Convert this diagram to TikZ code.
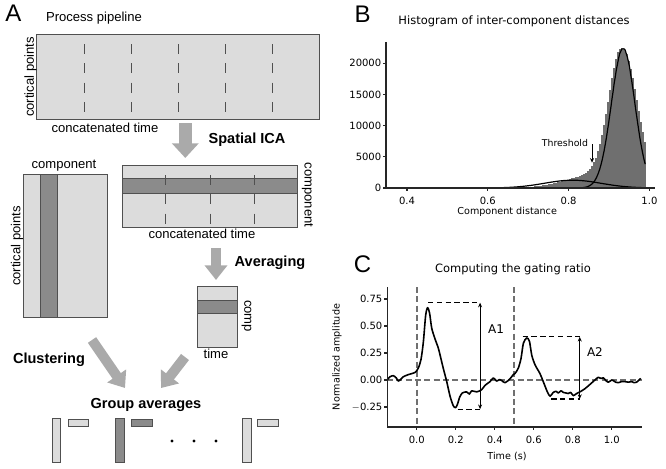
\documentclass[tikz,border=0pt]{standalone}
\usepackage{fontspec}
\setmainfont{Liberation Sans}
\newfontfamily\plotfont{DejaVu Sans}
\usetikzlibrary{arrows.meta}

\definecolor{cellgray}{HTML}{DCDCDC}
\definecolor{bandgray}{HTML}{8B8B8B}
\definecolor{framegray}{HTML}{505050}
\definecolor{arrowgray}{HTML}{AAAAAA}
\definecolor{bargray}{HTML}{6F6F6F}
\definecolor{guidegray}{HTML}{707070}

\begin{document}
\begin{tikzpicture}[x=0.75pt, y=-0.75pt,
    every node/.style={inner sep=0pt},
    panel/.style={font=\fontsize{18}{20}\selectfont},
    txt/.style={font=\fontsize{9.8}{11}\selectfont},
    stage/.style={font=\bfseries\fontsize{10.9}{12}\selectfont},
    cell/.style={fill=cellgray, draw=framegray, line width=0.6pt},
    band/.style={fill=bandgray, draw=framegray, line width=0.4pt},
    cut/.style={framegray, line width=0.75pt, dash pattern=on 7.5pt off 7pt, dash phase=7pt},
    bigarrow/.style={arrowgray, line width=7.5pt, -{Triangle[width=16.5pt, length=11pt]}},
    ptitle/.style={font=\plotfont\fontsize{8.6}{10}\selectfont},
    ticklbl/.style={font=\plotfont\fontsize{7.5}{9}\selectfont},
    axlbl/.style={font=\plotfont\fontsize{7.2}{8.5}\selectfont},
    spine/.style={line width=0.8pt, black!85},
    guide/.style={guidegray, line width=1.2pt, dash pattern=on 4.5pt off 2.5pt},
    span/.style={black, line width=0.8pt, dash pattern=on 4pt off 2.6pt},
  ]
  \useasboundingbox (0,0) rectangle (666,468);

  % Panel A: processing pipeline.
  \node[panel] (lettera) at (13.5,13.5) {A};
  \node[txt] (pipetitle) at (94,18) {Process pipeline};

  % Datos concatenados: puntos corticales x tiempo.
  \draw[cell] (36,34) rectangle (319,119);
  \foreach \xc in {84,131,178,225,272}
    \draw[cut] (\xc,34) -- (\xc,119);
  \node[txt, rotate=90] (rawpts) at (30.5,77) {cortical points};
  \node[txt] (rawtime) at (105,128) {concatenated time};

  \coordinate (icafrom) at (185.3,123);
  \coordinate (icato) at (185.3,158);
  \draw[bigarrow, line width=10pt, -{Triangle[width=19.5pt, length=11pt]}] (icafrom) -- (icato);
  \node[stage] (icalbl) at (247,140) {Spatial ICA};

  % Mapas espaciales y series temporales.
  \draw[cell] (23,174) rectangle (107,317);
  \draw[band] (40,174) rectangle (57,317);
  \node[txt] (mapcomp) at (64,166) {component};
  \node[txt, rotate=90] (mappts) at (17,246) {cortical points};

  \draw[cell] (122,165) rectangle (297,227);
  \draw[band] (122,178) rectangle (297,193);
  \foreach \xc in {165,210,254}
    \draw[cut] (\xc,165) -- (\xc,227);
  \node[txt, rotate=-90] (mixcomp) at (307.5,195) {component};
  \node[txt] (mixtime) at (202,234) {concatenated time};

  \coordinate (avgfrom) at (216,248);
  \coordinate (avgto) at (216,280);
  \draw[bigarrow] (avgfrom) -- (avgto);
  \node[stage] (avglbl) at (270,263) {Averaging};

  \draw[cell] (197,286) rectangle (237,347);
  \draw[band] (197,300) rectangle (237,313);
  \node[txt, rotate=-90] (tccomp) at (246.5,316) {comp};
  \node[txt] (tctime) at (216,354) {time};

  % Agrupamiento y promedios de grupo.
  \node[stage] (clulbl) at (49,360) {Clustering};
  \coordinate (clufrom) at (92,340);
  \coordinate (cluto) at (125,388);
  \draw[bigarrow] (clufrom) -- (cluto);
  \coordinate (tcfrom) at (185,357);
  \coordinate (tcto) at (161,388);
  \draw[bigarrow] (tcfrom) -- (tcto);
  \node[stage] (grplbl) at (146,405) {Group averages};

  \draw[cell] (52,418) rectangle (60,462);
  \draw[cell] (68,419) rectangle (88,426);
  \draw[band, line width=0.6pt] (115,418) rectangle (124,462);
  \draw[band, line width=0.6pt] (131,419) rectangle (152,426);
  \foreach \xc in {172,194,216}
    \fill (\xc,441) circle (1.7);
  \draw[cell] (242,418) rectangle (251,462);
  \draw[cell] (257,419) rectangle (278,426);

  % Panel B: histograma de distancias.
  \node[panel] (letterb) at (362.5,14) {B};
  \node[ptitle] (histtitle) at (514,21) {Histogram of inter-component distances};
  \begin{scope}[shift={(245.4,188)}, x=303pt, y=4.68pt]
    \foreach \b in {0,...,87}{
      \pgfmathsetmacro{\binlo}{0.55+0.005*\b}
      \pgfmathsetmacro{\binmd}{\binlo+0.0025}
      \pgfmathsetmacro{\sda}{\binmd<0.932 ? 0.032 : 0.038}
      \pgfmathsetmacro{\sdb}{\binmd<0.86 ? 0.07 : 0.05}
      \pgfmathsetmacro{\binh}{21.7*exp(max(-(\binmd-0.932)*(\binmd-0.932)/(2*\sda*\sda),-9))
        + 2.0*exp(max(-(\binmd-0.86)*(\binmd-0.86)/(2*\sdb*\sdb),-9))}
      \fill[bargray] (\binlo,0) rectangle ++(0.0056,\binh);
    }
    \draw[line width=0.9pt] plot[domain=0.36:0.99, samples=80]
      (\x, {1.25*exp(max(-(\x-0.81)*(\x-0.81)/0.0098,-9))});
    \draw[line width=0.9pt] plot[domain=0.8:0.99, samples=70]
      (\x, {22.3*exp(max(-(\x-0.935)*(\x-0.935)/0.001682,-9))});

    \draw[spine] (0.348,23.4) -- (0.348,0) -- (1.014,0);
    \foreach \v [count=\i] in {0.4,0.6,0.8,1.0}{
      \draw[spine] (\v,0) -- ++(0pt,-2.6pt);
      \node[ticklbl, anchor=north] (bx\i) at ([yshift=-6.3pt]\v,0) {\v};
    }
    \foreach \c/\l [count=\i] in {0/0,5/5000,10/10000,15/15000,20/20000}{
      \draw[spine] (0.348,\c) -- ++(-2.6pt,0pt);
      \node[ticklbl, anchor=east] (by\i) at ([xshift=-3.4pt]0.348,\c) {\l};
    }
    \node[axlbl] (xlabb) at (0.648,-3.85) {Component distance};

    \node[axlbl, font=\plotfont\fontsize{7}{8}\selectfont] (thrlbl) at (0.791,7.2) {Threshold};
    \coordinate (thrtop) at (0.858,7.0);
    \coordinate (thrbot) at (0.858,4.05);
    \draw[line width=0.6pt, -{Stealth[length=3.5pt, width=3pt]}] (thrtop) -- (thrbot);
  \end{scope}

  % Panel C: razon de gating.
  \node[panel] (letterc) at (362.5,264) {C};
  \node[ptitle] (gatetitle) at (513,269) {Computing the gating ratio};
  \node[axlbl, rotate=90] (ylabc) at (337,357) {Normalized amplitude};
  \begin{scope}[shift={(416.7,380)}, x=146.25pt, y=81pt]
    \draw[guide] (0,0.861) -- (0,-0.435);
    \draw[guide] (0.5,0.861) -- (0.5,-0.435);
    \draw[guide] (-0.152,0) -- (1.155,0);

    \draw[line width=1.2pt, line join=round] plot[smooth, tension=0.45] coordinates {
      (-0.152,0.0) (-0.137,0.03) (-0.12,0.04) (-0.105,0.02) (-0.094,-0.01) (-0.08,0.01)
      (-0.069,0.03) (-0.043,0.05) (-0.009,0.07) (0.008,0.11) (0.022,0.19) (0.034,0.35)
      (0.046,0.6) (0.056,0.67) (0.066,0.62) (0.077,0.48) (0.094,0.38) (0.11,0.3)
      (0.12,0.23) (0.136,0.11) (0.154,-0.015) (0.171,-0.15) (0.188,-0.24) (0.2,-0.255)
      (0.21,-0.22) (0.22,-0.16) (0.234,-0.12) (0.256,-0.11) (0.27,-0.13) (0.282,-0.10)
      (0.308,-0.11) (0.333,-0.09) (0.35,-0.05) (0.376,-0.015) (0.393,0.02) (0.41,-0.01)
      (0.425,0.005) (0.436,-0.005) (0.453,-0.025) (0.478,0.01) (0.495,0.05) (0.504,0.06)
      (0.521,0.11) (0.535,0.2) (0.547,0.34) (0.564,0.39) (0.578,0.36) (0.59,0.23)
      (0.607,0.14) (0.632,0.06) (0.649,-0.015) (0.67,-0.11) (0.684,-0.15) (0.7,-0.115)
      (0.715,-0.105) (0.726,-0.12) (0.74,-0.1) (0.752,-0.115) (0.765,-0.12) (0.777,-0.125)
      (0.79,-0.115) (0.803,-0.145) (0.82,-0.125) (0.837,-0.11) (0.863,-0.08) (0.889,-0.04)
      (0.914,0.0) (0.931,0.025) (0.945,0.015) (0.957,0.02) (0.97,-0.005) (0.983,-0.02)
      (1.0,0.0) (1.008,-0.005) (1.02,-0.02) (1.034,-0.025) (1.05,-0.015) (1.068,-0.015)
      (1.085,-0.02) (1.103,-0.015) (1.115,-0.025) (1.128,-0.02) (1.14,0.0) (1.149,0.015)};

    % Amplitudes A1 y A2.
    \coordinate (aonetop) at (0.325,0.716);
    \coordinate (aonebot) at (0.325,-0.27);
    \draw[span] (0.058,0.716) -- (aonetop);
    \draw[span] (0.21,-0.27) -- (aonebot);
    \draw[line width=0.6pt, {Stealth[length=3.5pt, width=3pt]}-{Stealth[length=3.5pt, width=3pt]}] (aonebot) -- (aonetop);
    \node[font=\plotfont\fontsize{9}{10}\selectfont] (aone) at (0.407,0.472) {A1};

    \coordinate (atwotop) at (0.836,0.40);
    \coordinate (atwobot) at (0.836,-0.176);
    \draw[span] (0.543,0.40) -- (atwotop);
    \draw[span] (0.69,-0.176) -- (atwobot);
    \draw[line width=0.6pt, {Stealth[length=3.5pt, width=3pt]}-{Stealth[length=3.5pt, width=3pt]}] (atwobot) -- (atwotop);
    \node[font=\plotfont\fontsize{9}{10}\selectfont] (atwo) at (0.914,0.259) {A2};

    \draw[spine] (-0.152,0.861) -- (-0.152,-0.435) -- (1.155,-0.435);
    \foreach \t [count=\i] in {0.0,0.2,0.4,0.6,0.8,1.0}{
      \draw[spine] (\t,-0.435) -- ++(0pt,-2.6pt);
      \node[ticklbl, anchor=north] (cx\i) at ([yshift=-6.3pt]\t,-0.435) {\t};
    }
    \foreach \a/\l [count=\i] in {-0.25/$-$0.25,0/0.00,0.25/0.25,0.5/0.50,0.75/0.75}{
      \draw[spine] (-0.152,\a) -- ++(-2.6pt,0pt);
      \node[ticklbl, anchor=east] (cy\i) at ([xshift=-3.4pt]-0.152,\a) {\l};
    }
    \node[axlbl] (xlabc) at (0.463,-0.711) {Time (s)};
  \end{scope}
\end{tikzpicture}
\end{document}
